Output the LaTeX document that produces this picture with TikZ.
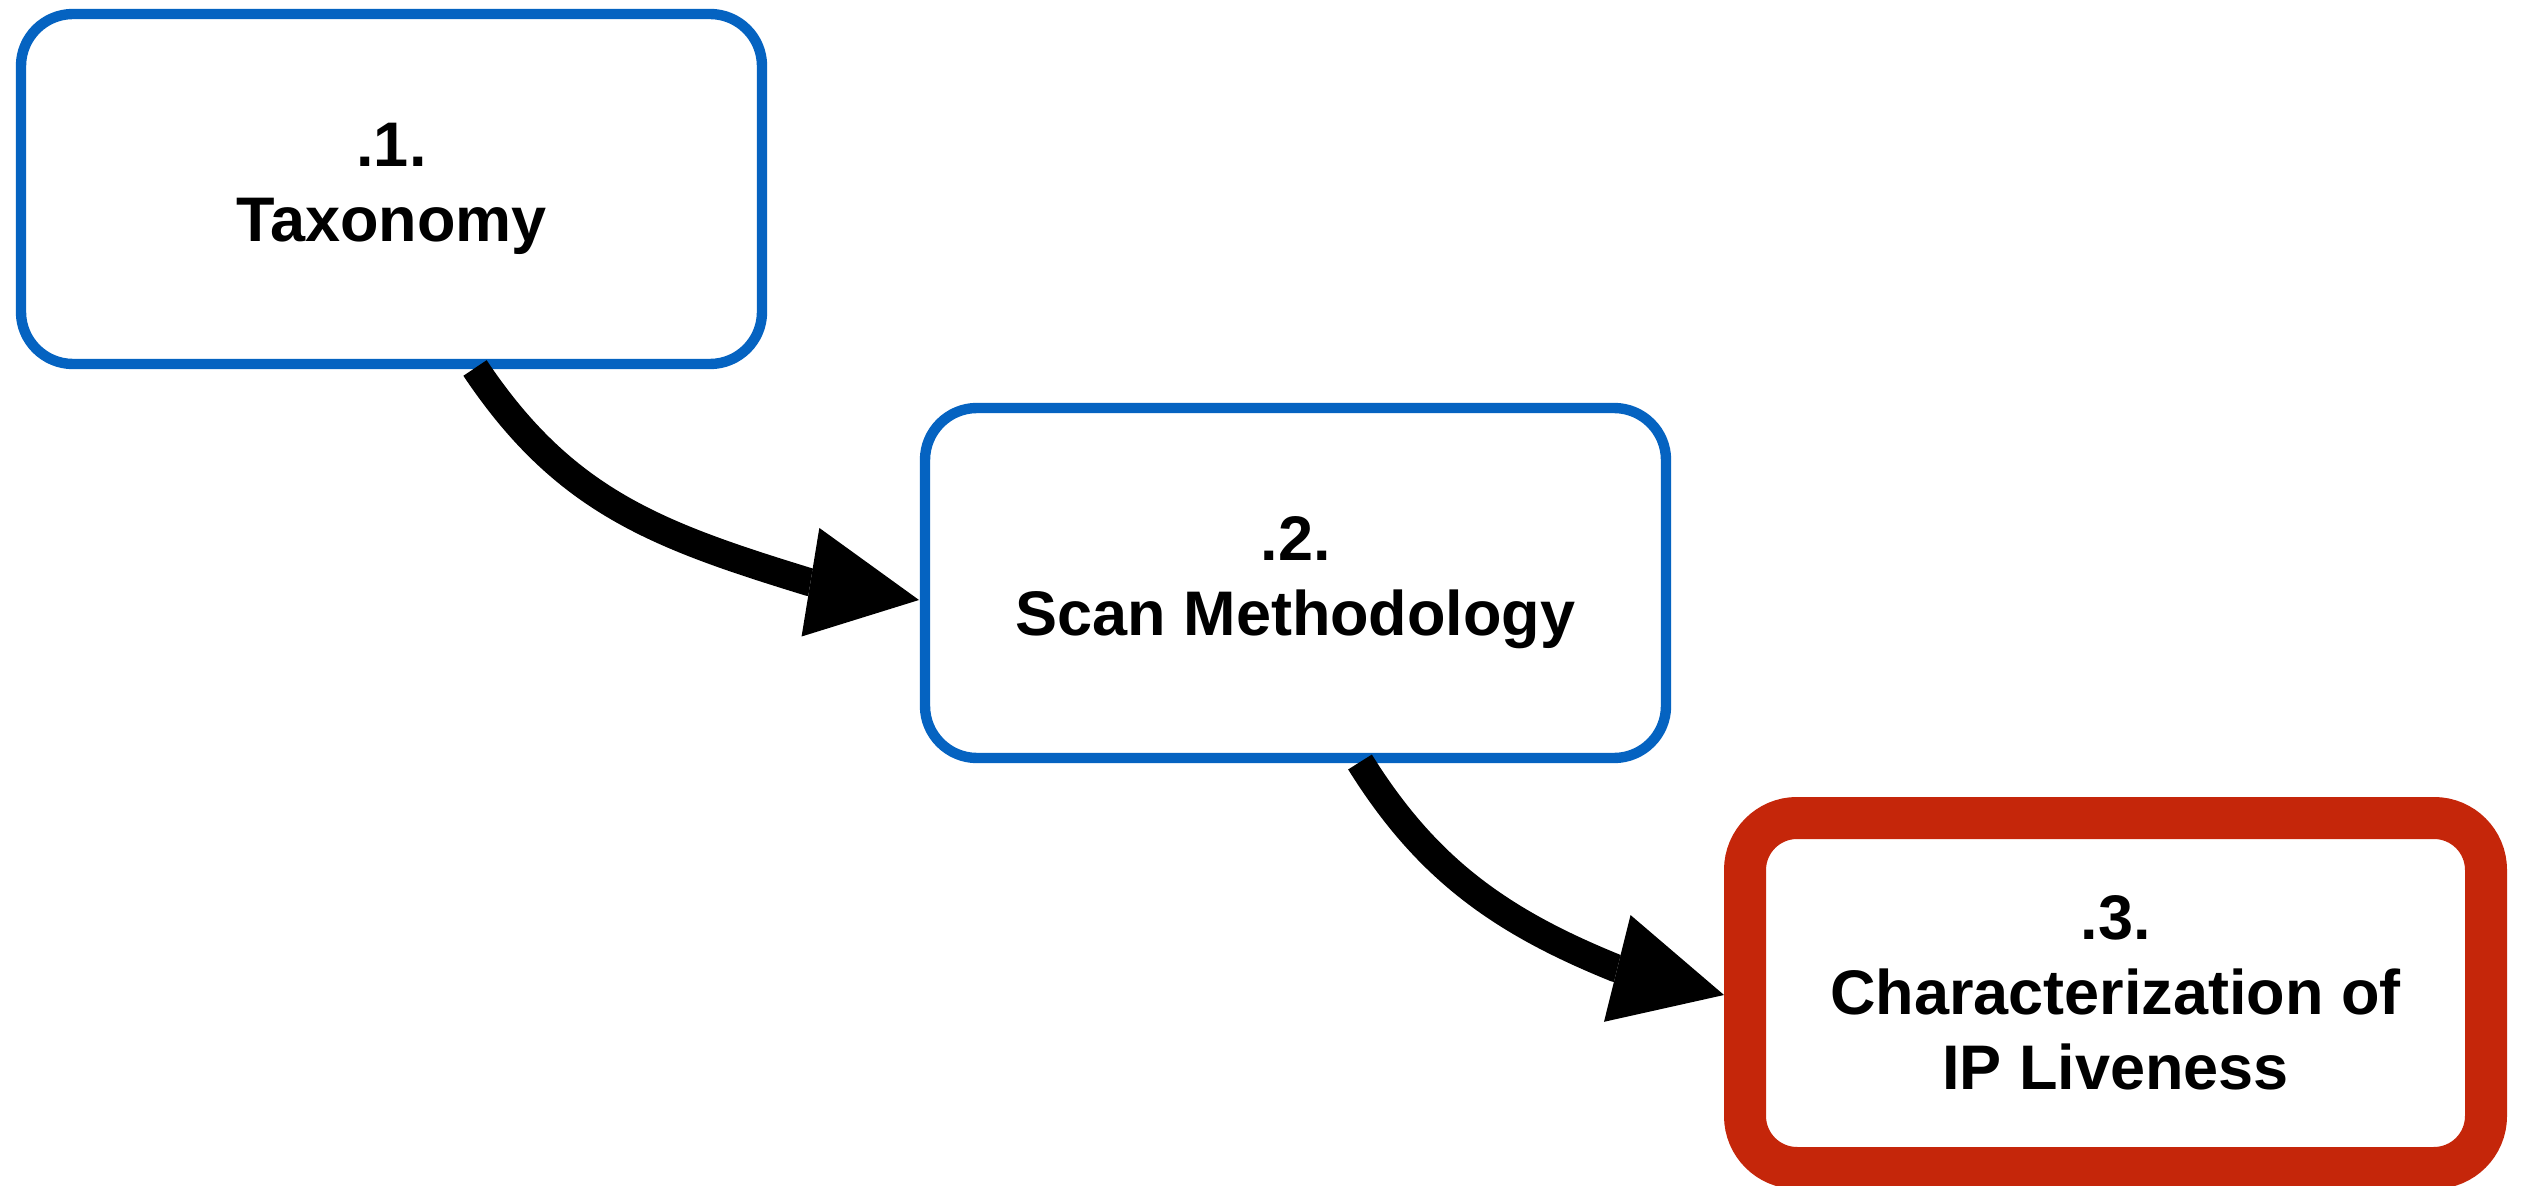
\documentclass[tikz,border=0pt]{standalone}
\usepackage{fontspec}
\setmainfont{Liberation Sans}
\usetikzlibrary{arrows.meta,calc}
\definecolor{boxblue}{HTML}{0563C1}
\definecolor{boxred}{HTML}{C5260A}
\begin{document}
\begin{tikzpicture}[x=0.25pt,y=-0.25pt,
  stepbox/.style={draw=boxblue, line width=2.6pt, rounded corners=13pt,
    minimum width=185.25pt, minimum height=87.5pt, inner sep=0pt, outer sep=0pt,
    align=center, fill=white, font=\bfseries\fontsize{15.75pt}{18.75pt}\selectfont},
  hlbox/.style={stepbox, draw=boxred, line width=10.5pt},
  flow/.style={line width=7pt, -{Triangle[length=27.5pt,width=27.5pt,line width=0pt]}}]
\useasboundingbox[fill=white] (0,0) rectangle (2528,1186);
\node[stepbox] (b1) at (391.5,189) {.1.\\Taxonomy};
\node[stepbox] (b2) at (1295.5,583) {.2.\\Scan Methodology};
\node[hlbox] (b3) at (2115.5,993) {.3.\\Characterization of\\IP Liveness};
\coordinate (s1) at ($(b1.south)+(83.5,4)$);
\coordinate (e1) at ($(b2.west)+(-6,17)$);
\coordinate (k1) at ($(e1)+(-110,-18)$);
\coordinate (s2) at ($(b2.south)+(64.5,4)$);
\coordinate (e2) at ($(b3.west)+(-21,2)$);
\coordinate (k2) at ($(e2)+(-108.5,-27)$);
\draw[flow] (s1) .. controls ($(s1)+(89,133)$) and ($(k1)+(-153,-47)$) .. (k1) -- (e1);
\draw[flow] (s2) .. controls ($(s2)+(66,106)$) and ($(k2)+(-116,-47)$) .. (k2) -- (e2);
\end{tikzpicture}
\end{document}
